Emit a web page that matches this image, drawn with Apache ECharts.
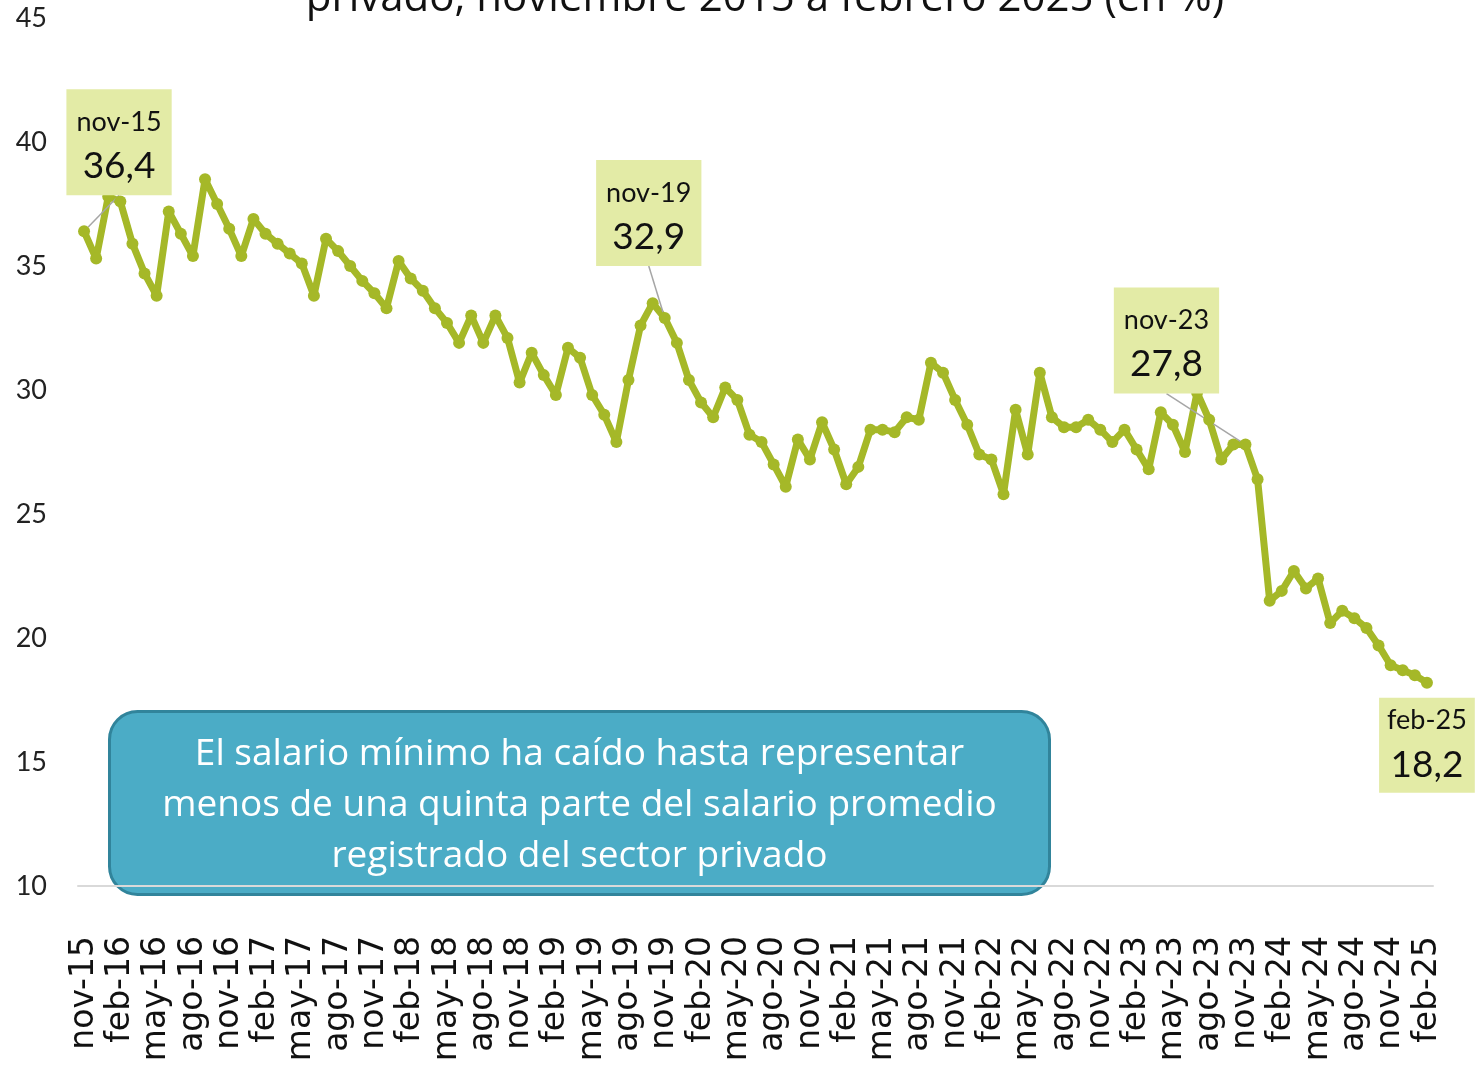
<!DOCTYPE html>
<html>
<head>
<meta charset="utf-8">
<script src="https://cdn.jsdelivr.net/npm/echarts@6.0.0/dist/echarts.min.js"></script>
<style>
  html, body { margin: 0; padding: 0; background: #fff; }
  #grafico { width: 1480px; height: 1066px; }
</style>
</head>
<body>
<div id="grafico"></div>
<script>
// meses en español, la serie arranca en nov-15
const meses = ['ene', 'feb', 'mar', 'abr', 'may', 'jun', 'jul', 'ago', 'sep', 'oct', 'nov', 'dic'];
const inicio = { mes: 10, anio: 15 };

// salario mínimo como % del salario promedio registrado privado
const valores = [
    36.4, 35.3, 37.8, 37.6, 35.9, 34.7, 33.8, 37.2, 36.3, 35.4, 38.5, 37.5,
    36.5, 35.4, 36.9, 36.3, 35.9, 35.5, 35.1, 33.8, 36.1, 35.6, 35.0, 34.4,
    33.9, 33.3, 35.2, 34.5, 34.0, 33.3, 32.7, 31.9, 33.0, 31.9, 33.0, 32.1,
    30.3, 31.5, 30.6, 29.8, 31.7, 31.3, 29.8, 29.0, 27.9, 30.4, 32.6, 33.5,
    32.9, 31.9, 30.4, 29.5, 28.9, 30.1, 29.6, 28.2, 27.9, 27.0, 26.1, 28.0,
    27.2, 28.7, 27.6, 26.2, 26.9, 28.4, 28.4, 28.3, 28.9, 28.8, 31.1, 30.7,
    29.6, 28.6, 27.4, 27.2, 25.8, 29.2, 27.4, 30.7, 28.9, 28.5, 28.5, 28.8,
    28.4, 27.9, 28.4, 27.6, 26.8, 29.1, 28.6, 27.5, 29.9, 28.8, 27.2, 27.8,
    27.8, 26.4, 21.5, 21.9, 22.7, 22.0, 22.4, 20.6, 21.1, 20.8, 20.4, 19.7,
    18.9, 18.7, 18.5, 18.2
];

// puntos con etiqueta (índices en la serie)
const destacados = [0, 48, 96, 111];

const categorias = valores.map((_, i) => {
    const m = inicio.mes + i;
    return meses[m % 12] + '-' + (inicio.anio + Math.floor(m / 12));
});

// desplazamiento de cada etiqueta respecto de su punto
const desplazamientos = {
    0: { pos: 'top', dx: 35, dy: -30, linea: true, pad: [14, 10, 4, 10] },
    48: { pos: 'top', dx: -16, dy: -46, linea: true, pad: [14, 10, 4, 10] },
    96: { pos: 'top', dx: -79, dy: -45, linea: true, pad: [14, 10, 4, 10] },
    111: { pos: 'bottom', dx: 0, dy: 9, linea: false, pad: [4, 8, 3, 8] }
};

const fmt = (v) => v.toFixed(1).replace('.', ',');

const datosSerie = valores.map((v, i) => {
    if (!destacados.includes(i)) return v;
    const d = desplazamientos[i];
    return {
        value: v,
        label: {
            show: true,
            position: d.pos,
            distance: 0,
            formatter: `{a|${categorias[i]}}\n{b|${fmt(v)}}`,
            backgroundColor: '#e3eba6',
            padding: d.pad,
            align: 'center',
            rich: {
                a: { fontFamily: 'Lato', fontSize: 27, lineHeight: 38, color: '#111', align: 'center' },
                b: { fontFamily: 'Lato', fontSize: 37, lineHeight: 50, color: '#111', align: 'center' }
            }
        },
        labelLine: { show: d.linea }
    };
});

const chart = echarts.init(document.getElementById('grafico'), null, { renderer: 'canvas' });

chart.setOption({
    animation: false,
    title: {
        text: 'privado, noviembre 2015 a febrero 2025 (en %)',
        left: 760,
        textAlign: 'center',
        top: -27,
        textStyle: { fontFamily: 'Open Sans', fontSize: 42, fontWeight: 'normal', color: '#111' }
    },
    grid: { left: 78, right: 47, top: 18, bottom: 180 },
    xAxis: {
        type: 'category',
        data: categorias,
        boundaryGap: true,
        axisLine: { show: true, lineStyle: { color: '#d9d9d9', width: 2 } },
        axisTick: { show: false },
        axisLabel: {
            interval: 2,
            rotate: 90,
            margin: 50,
            fontFamily: 'DejaVu Sans',
            fontSize: 33,
            color: '#111'
        }
    },
    yAxis: {
        type: 'value',
        min: 10,
        max: 45,
        interval: 5,
        axisLine: { show: false },
        axisTick: { show: false },
        splitLine: { show: false },
        axisLabel: {
            margin: 31,
            fontFamily: 'Lato',
            fontSize: 27,
            color: '#222'
        }
    },
    series: [{
        type: 'line',
        data: datosSerie,
        showAllSymbol: true,
        symbol: 'circle',
        symbolSize: 12,
        lineStyle: { color: '#a5b828', width: 7 },
        itemStyle: { color: '#a5b828' },
        labelLine: { show: true, lineStyle: { color: '#a6a6a6', width: 1.5 } },
        labelLayout: (p) => {
            const d = desplazamientos[p.dataIndex];
            return d ? { dx: d.dx, dy: d.dy } : {};
        },
        z: 3
    }],
    graphic: [{
        type: 'group',
        left: 108,
        top: 710,
        z: 50,
        children: [{
            type: 'rect',
            shape: { x: 0, y: 0, width: 940, height: 183, r: 28 },
            style: { fill: '#4bacc6', stroke: '#31849b', lineWidth: 3 }
        }, {
            type: 'text',
            x: 470,
            y: 94,
            style: {
                text: 'El salario mínimo ha caído hasta representar\nmenos de una quinta parte del salario promedio\nregistrado del sector privado',
                fill: '#fff',
                font: '37px "Open Sans"',
                lineHeight: 51,
                align: 'center',
                verticalAlign: 'middle'
            }
        }]
    }]
});
</script>
</body>
</html>
